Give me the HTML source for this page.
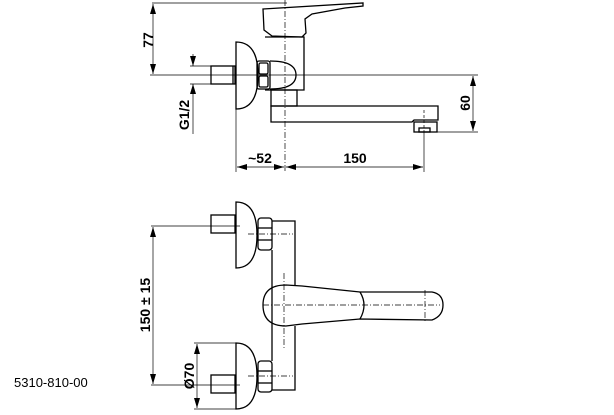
<!DOCTYPE html>
<html><head><style>
html,body{margin:0;padding:0;background:#fff;}
svg{display:block}
text{font-family:"Liberation Sans",sans-serif;font-weight:bold;fill:#000}
</style></head><body>
<svg width="614" height="415" viewBox="0 0 614 415" xmlns="http://www.w3.org/2000/svg">
<defs>
<marker id="a" viewBox="0 0 10 6" refX="10" refY="3" markerWidth="10" markerHeight="6" markerUnits="userSpaceOnUse" orient="auto-start-reverse"><path d="M0,0L10,3L0,6z" fill="#000"/></marker>
</defs>
<g fill="none" stroke="#000" stroke-width="0.7">
<!-- TOP VIEW thin lines -->
<line x1="152" y1="3" x2="287" y2="3"/>
<line x1="150" y1="75" x2="478" y2="75"/>
<line x1="437" y1="132" x2="478" y2="132"/>
<line x1="190" y1="66" x2="211" y2="66"/>
<line x1="190" y1="84" x2="211" y2="84"/>
<line x1="236" y1="109" x2="236" y2="172"/>
<line x1="424" y1="130" x2="424" y2="172"/>
<line x1="285" y1="0" x2="285" y2="172" stroke-dasharray="6,2,1,2"/>
<line x1="424" y1="110" x2="424" y2="130" stroke-dasharray="3,2"/>
<!-- dims -->
<line x1="153" y1="4" x2="153" y2="74" marker-start="url(#a)" marker-end="url(#a)"/>
<line x1="473" y1="76" x2="473" y2="131" marker-start="url(#a)" marker-end="url(#a)"/>
<line x1="193" y1="54" x2="193" y2="66" marker-end="url(#a)"/>
<line x1="193" y1="134" x2="193" y2="84" marker-end="url(#a)"/>
<line x1="237" y1="167" x2="284" y2="167" marker-start="url(#a)" marker-end="url(#a)"/>
<line x1="286" y1="167" x2="423" y2="167" marker-start="url(#a)" marker-end="url(#a)"/>
</g>
<g fill="none" stroke="#000" stroke-width="1.3">
<!-- lever -->
<path d="M263,9 L363,3 L363,6 L345,8 L312,14 L305,19 L306,33 L302,37 L272,36 L264,30 Z"/>
<!-- body -->
<path d="M265,37 L304,37 L304,90 L265,90"/>
<rect x="271" y="90" width="26" height="16"/>
<!-- spout -->
<path d="M271,106 L271,122 L412,122 L414,120 L438,120 L438,106 Z"/>
<rect x="414" y="122" width="23" height="10"/>
<rect x="419" y="128" width="11" height="4"/>
<!-- nut & dome -->
<rect x="257" y="61" width="13" height="28" rx="2"/>
<rect x="259" y="63" width="9" height="11" rx="1.5"/>
<rect x="259" y="76" width="9" height="11" rx="1.5"/>
<path d="M270,61 Q296,61 296,75 Q296,89 270,89"/>
<!-- escutcheon -->
<path d="M236,42 L236,109 Q258,109 258,75 Q258,42 236,42 Z"/>
<rect x="211" y="66" width="24" height="18"/>
<line x1="233" y1="66" x2="233" y2="84"/>
</g>
<!-- BOTTOM VIEW thin -->
<g fill="none" stroke="#000" stroke-width="0.7">
<line x1="151" y1="226" x2="240" y2="226"/>
<line x1="151" y1="385" x2="240" y2="385"/>
<line x1="153" y1="227" x2="153" y2="384" marker-start="url(#a)" marker-end="url(#a)"/>
<line x1="194" y1="343" x2="236" y2="343"/>
<line x1="194" y1="409" x2="236" y2="409"/>
<line x1="197" y1="344" x2="197" y2="408" marker-start="url(#a)" marker-end="url(#a)"/>
<g stroke-dasharray="6,2,1,2">
<line x1="248" y1="234" x2="293" y2="234"/>
<line x1="248" y1="376" x2="293" y2="376"/>
<line x1="263" y1="305" x2="440" y2="305"/>
<line x1="284" y1="273" x2="284" y2="350"/>
<line x1="425" y1="290" x2="425" y2="322"/>
</g>
</g>
<g fill="none" stroke="#000" stroke-width="1.3">
<path d="M272,221 L295,221 L295,285 M295,326 L295,390 L272,390"/>
<line x1="272" y1="250" x2="272" y2="361"/>
<!-- lever top view -->
<path d="M286,285 Q263,285 263,305 Q263,326 286,326 L302,324 L360,319 L432,320 Q443,316 443,305 Q443,294 432,292 L360,292 L302,286 Z"/>
<path d="M360,292 Q368,305 360,319"/>
<!-- upper escutcheon -->
<path d="M236,202 L236,268 Q257,268 257,235 Q257,202 236,202 Z"/>
<rect x="211" y="215" width="24" height="18"/>
<rect x="258" y="218" width="14" height="32" rx="3"/>
<line x1="258" y1="228" x2="272" y2="228"/>
<line x1="258" y1="240" x2="272" y2="240"/>
<!-- lower escutcheon -->
<path d="M236,343 L236,409 Q257,409 257,376 Q257,343 236,343 Z"/>
<rect x="211" y="375" width="24" height="18"/>
<rect x="258" y="361" width="14" height="31" rx="3"/>
<line x1="258" y1="371" x2="272" y2="371"/>
<line x1="258" y1="383" x2="272" y2="383"/>
</g>
<!-- texts -->
<text transform="translate(153,40) rotate(-90)" text-anchor="middle" font-size="14">77</text>
<text transform="translate(189,115) rotate(-90)" text-anchor="middle" font-size="14">G1/2</text>
<text transform="translate(470,103) rotate(-90)" text-anchor="middle" font-size="14">60</text>
<text x="260" y="163" text-anchor="middle" font-size="14">~52</text>
<text x="355" y="163" text-anchor="middle" font-size="14">150</text>
<text transform="translate(150,305) rotate(-90)" text-anchor="middle" font-size="14">150 ± 15</text>
<text transform="translate(194,376) rotate(-90)" text-anchor="middle" font-size="14">Ø70</text>
<text x="14" y="387" font-size="13" style="font-weight:normal">5310-810-00</text>
</svg>
</body></html>
